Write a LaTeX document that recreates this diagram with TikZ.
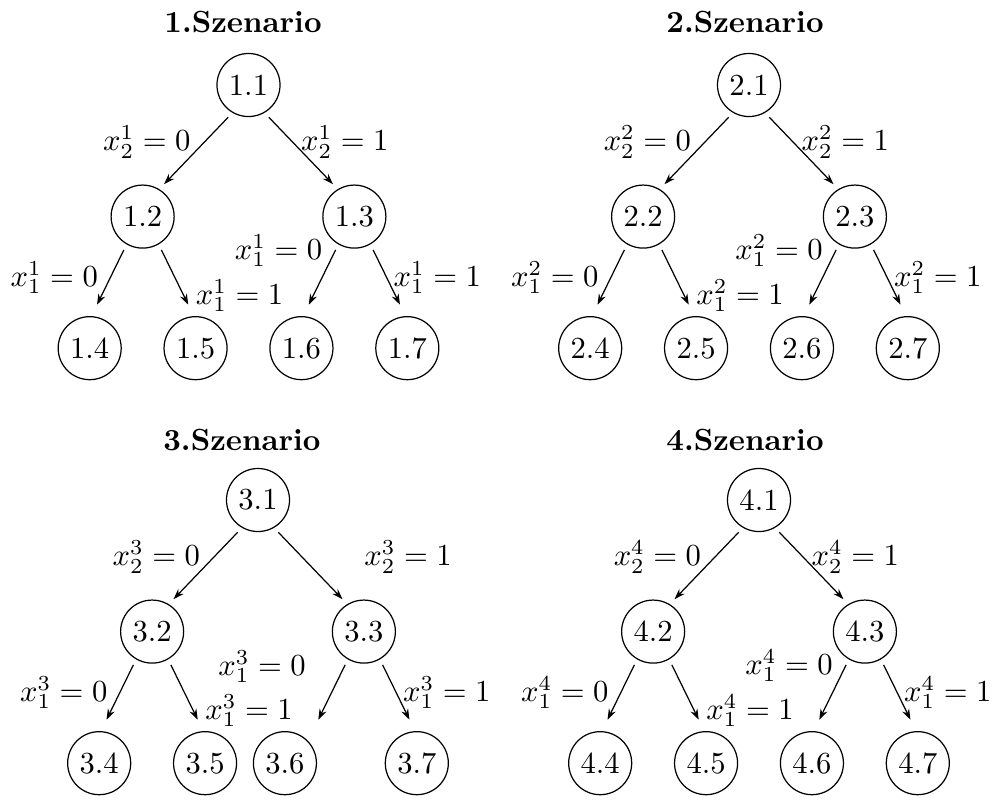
\documentclass[tikz,border=0pt]{standalone}
\usepackage{tikz}
\usetikzlibrary{arrows.meta, positioning}

\begin{document}
\begin{tikzpicture}[x=0.3268pt, y=-0.3268pt, on grid,
    knoten/.style={draw, circle, minimum size=20.6pt, inner sep=0pt},
    pfeil/.style={-{Stealth[length=3.5pt, width=2.4pt]}, shorten <=2pt},
    titel/.style={font=\bfseries}]
    \useasboundingbox (0,0) rectangle (993,801);

    % 1. Szenario
    \node (t1) [titel] at (243,22) {1.Szenario};
    \node (s11) [knoten] at (248.5,85) {1.1};
    \node (s12) [knoten, below left=43pt and 34.6pt of s11] {1.2};
    \node (s13) [knoten, below right=43pt and 34.6pt of s11] {1.3};
    \node (s14) [knoten, below left=43pt and 17.3pt of s12] {1.4};
    \node (s15) [knoten, below right=43pt and 17.3pt of s12] {1.5};
    \node (s16) [knoten, below left=43pt and 17.3pt of s13] {1.6};
    \node (s17) [knoten, below right=43pt and 17.3pt of s13] {1.7};
    \coordinate[below left=32.4pt and 27.6pt of s11] (e12);
    \coordinate[below right=32.4pt and 27.6pt of s11] (e13);
    \coordinate[below left=28.8pt and 14.9pt of s12] (e14);
    \coordinate[below right=28.8pt and 14.9pt of s12] (e15);
    \coordinate[below left=28.8pt and 14.9pt of s13] (e16);
    \coordinate[below right=28.8pt and 14.9pt of s13] (e17);
    \draw[pfeil] (s11.240) -- (e12);
    \draw[pfeil] (s11.300) -- (e13);
    \draw[pfeil] (s12.240) -- (e14);
    \draw[pfeil] (s12.300) -- (e15);
    \draw[pfeil] (s13.240) -- (e16);
    \draw[pfeil] (s13.300) -- (e17);
    \node (l12) [below left=18.6pt and 33.2pt of s11] {$x_2^1=0$};
    \node (l13) [below right=18.6pt and 31.5pt of s11] {$x_2^1=1$};
    \node (l14) [below left=19.9pt and 28.9pt of s12] {$x_1^1=0$};
    \node (l15) [below right=25.8pt and 31.7pt of s12] {$x_1^1=1$};
    \node (l16) [below left=11.1pt and 24.8pt of s13] {$x_1^1=0$};
    \node (l17) [below right=19.9pt and 27.1pt of s13] {$x_1^1=1$};

    % 2. Szenario
    \node (t2) [titel] at (745,22) {2.Szenario};
    \node (s21) [knoten] at (749,85) {2.1};
    \node (s22) [knoten, below left=43pt and 34.6pt of s21] {2.2};
    \node (s23) [knoten, below right=43pt and 34.6pt of s21] {2.3};
    \node (s24) [knoten, below left=43pt and 17.3pt of s22] {2.4};
    \node (s25) [knoten, below right=43pt and 17.3pt of s22] {2.5};
    \node (s26) [knoten, below left=43pt and 17.3pt of s23] {2.6};
    \node (s27) [knoten, below right=43pt and 17.3pt of s23] {2.7};
    \coordinate[below left=32.4pt and 27.6pt of s21] (e22);
    \coordinate[below right=32.4pt and 27.6pt of s21] (e23);
    \coordinate[below left=28.8pt and 14.9pt of s22] (e24);
    \coordinate[below right=28.8pt and 14.9pt of s22] (e25);
    \coordinate[below left=28.8pt and 14.9pt of s23] (e26);
    \coordinate[below right=28.8pt and 14.9pt of s23] (e27);
    \draw[pfeil] (s21.240) -- (e22);
    \draw[pfeil] (s21.300) -- (e23);
    \draw[pfeil] (s22.240) -- (e24);
    \draw[pfeil] (s22.300) -- (e25);
    \draw[pfeil] (s23.240) -- (e26);
    \draw[pfeil] (s23.300) -- (e27);
    \node (l22) [below left=18.6pt and 33.2pt of s21] {$x_2^2=0$};
    \node (l23) [below right=18.6pt and 31.5pt of s21] {$x_2^2=1$};
    \node (l24) [below left=19.9pt and 28.9pt of s22] {$x_1^2=0$};
    \node (l25) [below right=25.8pt and 31.7pt of s22] {$x_1^2=1$};
    \node (l26) [below left=11.1pt and 24.8pt of s23] {$x_1^2=0$};
    \node (l27) [below right=19.9pt and 27.1pt of s23] {$x_1^2=1$};

    % 3. Szenario
    \node (t3) [titel] at (242,440) {3.Szenario};
    \node (s31) [knoten] at (258,500) {3.1};
    \node (s32) [knoten, below left=43pt and 34.6pt of s31] {3.2};
    \node (s33) [knoten, below right=43pt and 34.6pt of s31] {3.3};
    \node (s34) [knoten, below left=43pt and 17.3pt of s32] {3.4};
    \node (s35) [knoten, below right=43pt and 17.3pt of s32] {3.5};
    \node (s36) [knoten, below left=43pt and 25.8pt of s33] {3.6};
    \node (s37) [knoten, below right=43pt and 17.3pt of s33] {3.7};
    \coordinate[below left=32.4pt and 27.6pt of s31] (e32);
    \coordinate[below right=32.4pt and 27.6pt of s31] (e33);
    \coordinate[below left=28.8pt and 14.9pt of s32] (e34);
    \coordinate[below right=28.8pt and 14.9pt of s32] (e35);
    \coordinate[below left=28.8pt and 14.9pt of s33] (e36);
    \coordinate[below right=28.8pt and 14.9pt of s33] (e37);
    \draw[pfeil] (s31.240) -- (e32);
    \draw[pfeil] (s31.300) -- (e33);
    \draw[pfeil] (s32.240) -- (e34);
    \draw[pfeil] (s32.300) -- (e35);
    \draw[pfeil] (s33.240) -- (e36);
    \draw[pfeil] (s33.300) -- (e37);
    \node (l32) [below left=18.6pt and 33.2pt of s31] {$x_2^3=0$};
    \node (l33) [below right=18.6pt and 49pt of s31] {$x_2^3=1$};
    \node (l34) [below left=19.9pt and 28.9pt of s32] {$x_1^3=0$};
    \node (l35) [below right=25.8pt and 31.7pt of s32] {$x_1^3=1$};
    \node (l36) [below left=11.4pt and 33.3pt of s33] {$x_1^3=0$};
    \node (l37) [below right=19.9pt and 27.1pt of s33] {$x_1^3=1$};

    % 4. Szenario
    \node (t4) [titel] at (745,440) {4.Szenario};
    \node (s41) [knoten] at (759,500) {4.1};
    \node (s42) [knoten, below left=43pt and 34.6pt of s41] {4.2};
    \node (s43) [knoten, below right=43pt and 34.6pt of s41] {4.3};
    \node (s44) [knoten, below left=43pt and 17.3pt of s42] {4.4};
    \node (s45) [knoten, below right=43pt and 17.3pt of s42] {4.5};
    \node (s46) [knoten, below left=43pt and 17.3pt of s43] {4.6};
    \node (s47) [knoten, below right=43pt and 17.3pt of s43] {4.7};
    \coordinate[below left=32.4pt and 27.6pt of s41] (e42);
    \coordinate[below right=32.4pt and 27.6pt of s41] (e43);
    \coordinate[below left=28.8pt and 14.9pt of s42] (e44);
    \coordinate[below right=28.8pt and 14.9pt of s42] (e45);
    \coordinate[below left=28.8pt and 14.9pt of s43] (e46);
    \coordinate[below right=28.8pt and 14.9pt of s43] (e47);
    \draw[pfeil] (s41.240) -- (e42);
    \draw[pfeil] (s41.300) -- (e43);
    \draw[pfeil] (s42.240) -- (e44);
    \draw[pfeil] (s42.300) -- (e45);
    \draw[pfeil] (s43.240) -- (e46);
    \draw[pfeil] (s43.300) -- (e47);
    \node (l42) [below left=18.6pt and 33.2pt of s41] {$x_2^4=0$};
    \node (l43) [below right=18.6pt and 31.5pt of s41] {$x_2^4=1$};
    \node (l44) [below left=19.9pt and 28.9pt of s42] {$x_1^4=0$};
    \node (l45) [below right=25.8pt and 31.7pt of s42] {$x_1^4=1$};
    \node (l46) [below left=11.1pt and 24.8pt of s43] {$x_1^4=0$};
    \node (l47) [below right=19.9pt and 27.1pt of s43] {$x_1^4=1$};
\end{tikzpicture}
\end{document}
